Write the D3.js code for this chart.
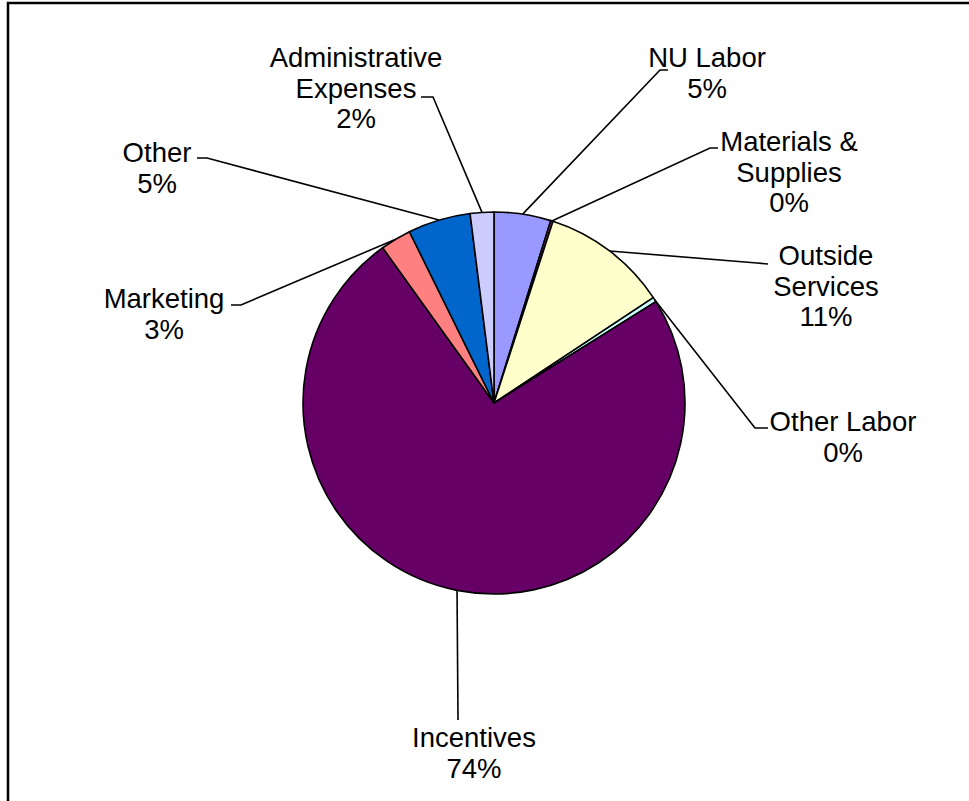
<!DOCTYPE html>
<html>
<head>
<meta charset="utf-8">
<script src="https://cdn.jsdelivr.net/npm/d3@7"></script>
<style>
  html, body { margin: 0; padding: 0; background: #ffffff; }
  svg { display: block; }
  text { font-family: "Liberation Sans", Arial, Helvetica, sans-serif; font-size: 27.5px; fill: #000; }
</style>
</head>
<body>
<svg id="chart" width="969" height="801"></svg>
<script>
// Expense categories, clockwise from 12 o'clock
const categories = [
  "NU Labor",
  "Materials & Supplies",
  "Outside Services",
  "Other Labor",
  "Incentives",
  "Marketing",
  "Other",
  "Administrative Expenses"
];
// Share of total spending (%)
const shares = [4.8, 0.2, 10.7, 0.4, 74.0, 2.6, 5.3, 2.0];
// Label line breaks for each category
const labelLines = [
  ["NU Labor"],
  ["Materials &", "Supplies"],
  ["Outside", "Services"],
  ["Other Labor"],
  ["Incentives"],
  ["Marketing"],
  ["Other"],
  ["Administrative", "Expenses"]
];
const sliceColors = ["#9999FF", "#993366", "#FFFFCC", "#CCFFFF", "#660066", "#FF8080", "#0066CC", "#CCCCFF"];

// Label placement: text centre x, first baseline y, leader elbow and leader end
const labelLayout = {
  "NU Labor":                {x: 707, y: 67,  elbow: [660, 70],  end: [668, 70]},
  "Materials & Supplies":    {x: 789, y: 151, elbow: [710, 148], end: [718, 148]},
  "Outside Services":        {x: 826, y: 265, elbow: [757, 263], end: [768, 264]},
  "Other Labor":             {x: 843, y: 431, elbow: [755, 428], end: [768, 428]},
  "Incentives":              {x: 474, y: 747, elbow: [458, 720], end: [458, 720]},
  "Marketing":               {x: 164, y: 308, elbow: [241, 305], end: [231, 305]},
  "Other":                   {x: 157, y: 162, elbow: [207, 158], end: [197, 158]},
  "Administrative Expenses": {x: 356, y: 67,  elbow: [433, 97],  end: [421, 97]}
};
const lineHeight = 30.7;

const svg = d3.select("#chart");

// Frame around the chart area
svg.append("rect")
  .attr("x", 8).attr("y", 3)
  .attr("width", 1100).attr("height", 1100)
  .attr("fill", "none")
  .attr("stroke", "#000")
  .attr("stroke-width", 2.5);

const cx = 494, cy = 403, radius = 191;

const data = categories.map((c, i) => ({name: c, value: shares[i], lines: labelLines[i], color: sliceColors[i]}));

const pie = d3.pie().sort(null).value(d => d.value).startAngle(0).endAngle(2 * Math.PI);
const arcs = pie(data);
const arc = d3.arc().innerRadius(0).outerRadius(radius);
const rim = d3.arc().innerRadius(radius).outerRadius(radius);

const g = svg.append("g").attr("transform", `translate(${cx},${cy})`);

g.selectAll("path.slice")
  .data(arcs)
  .join("path")
  .attr("class", "slice")
  .attr("d", arc)
  .attr("fill", d => d.data.color)
  .attr("stroke", "#000")
  .attr("stroke-width", 1.6)
  .attr("stroke-linejoin", "round");

// Leader lines from each slice edge to its label
const leaders = svg.append("g");
arcs.forEach(d => {
  const L = labelLayout[d.data.name];
  const p = rim.centroid(d);
  const pts = [[cx + p[0], cy + p[1]], L.elbow, L.end];
  leaders.append("path")
    .attr("d", d3.line()(pts))
    .attr("fill", "none")
    .attr("stroke", "#000")
    .attr("stroke-width", 1.6);
});

// Category labels with rounded percentages
const labels = svg.append("g");
arcs.forEach(d => {
  const L = labelLayout[d.data.name];
  const lines = d.data.lines.concat([Math.round(d.data.value) + "%"]);
  const t = labels.append("text").attr("text-anchor", "middle");
  lines.forEach((s, i) => {
    t.append("tspan").attr("x", L.x).attr("y", L.y + i * lineHeight).text(s);
  });
});
</script>
</body>
</html>
